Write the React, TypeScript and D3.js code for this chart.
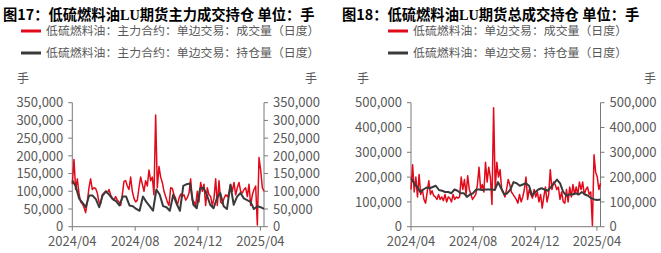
import * as d3 from "d3";
import React from "react";

const WIDTH = 661;
const HEIGHT = 253;

// shared date range of both panels
const START = new Date(2024, 3, 1);
const END = new Date(2025, 3, 8);
const xTickDates = [
    new Date(2024, 3, 1),
    new Date(2024, 7, 1),
    new Date(2024, 11, 1),
    new Date(2025, 3, 1),
];
const xTickLabels = ["2024/04", "2024/08", "2024/12", "2025/04"];

// 图17 main contract, thousands of lots
const mainVolume = [
    120, 190, 105, 135, 95, 70, 65, 55, 40, 70, 110, 135, 105, 110, 108, 95,
    70, 65, 90, 95, 100, 95, 105, 90, 80, 75, 85, 75, 70, 60, 90, 128, 130,
    115, 105, 140, 100, 80, 70, 75, 110, 140, 120, 100, 130, 115, 160, 130,
    140, 90, 315, 110, 170, 140, 125, 100, 85, 70, 60, 110, 108, 90, 80, 60,
    80, 92, 85, 90, 75, 82, 95, 135, 75, 70, 60, 100, 70, 125, 100, 120, 60,
    110, 90, 85, 60, 80, 135, 60, 130, 70, 65, 80, 90, 85, 95, 120, 100, 125,
    90, 110, 125, 100, 95, 105, 110, 85, 120, 60, 90, 105, 115, 5, 195, 160,
    110, 100,
];
const mainOpenInterest = [
    130, 115, 80, 68, 55, 88, 88, 78, 55, 88, 100, 90, 78, 72, 60, 85, 85, 60,
    58, 50, 45, 85, 70, 58, 45, 105, 90, 58, 55, 45, 90, 65, 45, 115, 120,
    122, 62, 52, 108, 110, 90, 62, 52, 80, 95, 58, 50, 118, 62, 85, 95, 80,
    75, 70, 50, 58, 55, 50,
];
const mainTicks = [0, 50000, 100000, 150000, 200000, 250000, 300000, 350000];

// 图18 all contracts, thousands of lots
const totalVolume = [
    150, 250, 140, 200, 120, 210, 130, 150, 110, 95, 140, 185, 130, 145, 125,
    120, 110, 130, 110, 120, 105, 130, 100, 120, 115, 100, 130, 110, 120, 115,
    120, 200, 150, 190, 130, 205, 150, 130, 110, 120, 130, 170, 240, 150, 170,
    140, 260, 180, 240, 200, 90, 480, 150, 260, 200, 230, 150, 140, 120, 150,
    190, 170, 140, 130, 120, 110, 95, 130, 100, 120, 150, 200, 110, 150, 130,
    115, 150, 120, 140, 100, 130, 75, 120, 160, 100, 130, 230, 150, 180, 170,
    150, 160, 110, 140, 100, 95, 150, 100, 160, 120, 170, 130, 160, 130, 180,
    150, 180, 130, 150, 160, 130, 140, 5, 290, 220, 200, 150, 175,
];
const totalOpenInterest = [
    195, 175, 160, 140, 150, 158, 155, 160, 165, 148, 145, 140, 140, 135, 150,
    145, 135, 135, 120, 130, 135, 150, 150, 148, 150, 150, 150, 148, 180, 155,
    130, 135, 150, 180, 175, 165, 170, 175, 165, 125, 140, 150, 155, 150, 145,
    160, 175, 190, 175, 140, 125, 130, 130, 135, 130, 140, 130, 125, 115, 110,
    108, 110,
];
const totalTicks = [0, 100000, 200000, 300000, 400000, 500000];

const RED = "#e00a1a";
const DARK = "#3a3a3a";
const GREY = "#595959";
const AXIS = "#7a7a7a";
const CJK = "'Noto Sans CJK SC', 'Noto Sans', sans-serif";

const TOP = 102.7;
const BOTTOM = 226.7;

type PanelProps = {
    titleHead: string;
    titleTail: string;
    titleX: number;
    legendX: number;
    volumeLabel: string;
    oiLabel: string;
    left: number;
    right: number;
    unitLeftX: number;
    unitRightX: number;
    ticks: number[];
    volume: number[];
    openInterest: number[];
};

const Panel: React.FC<PanelProps> = (p) => {
    const xScale = d3.scaleTime().domain([START, END]).range([p.left, p.right]);
    const yScale = d3
        .scaleLinear()
        .domain([0, p.ticks[p.ticks.length - 1]])
        .range([BOTTOM, TOP]);
    const fmt = d3.format(",");

    // spread each series evenly over the date range
    const dateAt = (i: number, n: number) =>
        new Date(START.getTime() + (i * (END.getTime() - START.getTime())) / (n - 1));
    const makeLine = (vals: number[]) =>
        d3
            .line<number>()
            .x((_, i) => xScale(dateAt(i, vals.length)))
            .y((d) => yScale(d * 1000))(vals) || "";

    return (
        <g>
            <text x={p.titleX} y={20} fontFamily={CJK} fontSize={14.3} fontWeight="bold" fill="#000">
                {p.titleHead}
                <tspan fontFamily="'Liberation Serif', serif">LU</tspan>
                {p.titleTail}
            </text>
            <line x1={p.legendX} x2={p.legendX + 20} y1={31} y2={31} stroke={RED} strokeWidth={3} />
            <text x={p.legendX + 25} y={35} fontFamily={CJK} fontSize={11.9} fill={GREY}>
                {p.volumeLabel}
            </text>
            <line x1={p.legendX} x2={p.legendX + 20} y1={53} y2={53} stroke={DARK} strokeWidth={3} />
            <text x={p.legendX + 25} y={57} fontFamily={CJK} fontSize={11.9} fill={GREY}>
                {p.oiLabel}
            </text>
            <text x={p.unitLeftX} y={83} textAnchor="middle" fontFamily={CJK} fontSize={12} fill={GREY}>
                手
            </text>
            <text x={p.unitRightX} y={83} textAnchor="middle" fontFamily={CJK} fontSize={12} fill={GREY}>
                手
            </text>

            {/* axes */}
            <line x1={p.left} x2={p.left} y1={TOP} y2={BOTTOM} stroke={AXIS} />
            <line x1={p.right} x2={p.right} y1={TOP} y2={BOTTOM} stroke={AXIS} />
            <line x1={p.left} x2={p.right} y1={BOTTOM} y2={BOTTOM} stroke={AXIS} />
            {p.ticks.map((t) => (
                <g key={t}>
                    <line x1={p.left - 4} x2={p.left} y1={yScale(t)} y2={yScale(t)} stroke={AXIS} />
                    <line x1={p.right} x2={p.right + 4} y1={yScale(t)} y2={yScale(t)} stroke={AXIS} />
                    <text x={p.left - 9} y={yScale(t)} dy="0.36em" textAnchor="end" fontFamily={CJK} fontSize={13} fill={GREY}>
                        {fmt(t)}
                    </text>
                    <text x={p.right + 9} y={yScale(t)} dy="0.36em" textAnchor="start" fontFamily={CJK} fontSize={13} fill={GREY}>
                        {fmt(t)}
                    </text>
                </g>
            ))}
            {xTickDates.map((d, i) => (
                <g key={xTickLabels[i]}>
                    <line x1={xScale(d)} x2={xScale(d)} y1={BOTTOM} y2={BOTTOM + 4} stroke={AXIS} />
                    <text x={xScale(d)} y={BOTTOM + 19.5} textAnchor="middle" fontFamily={CJK} fontSize={13} fill={GREY}>
                        {xTickLabels[i]}
                    </text>
                </g>
            ))}

            <path d={makeLine(p.volume)} fill="none" stroke={RED} strokeWidth={1.5} strokeLinejoin="round" />
            <path d={makeLine(p.openInterest)} fill="none" stroke={DARK} strokeWidth={2} strokeLinejoin="round" />
        </g>
    );
};

export default function App() {
    return (
        <svg width={WIDTH} height={HEIGHT} style={{ position: "absolute", left: 0, top: 0, background: "#fff" }}>
            <Panel
                titleHead="图17：低硫燃料油"
                titleTail="期货主力成交持仓 单位：手"
                titleX={3}
                legendX={21}
                volumeLabel="低硫燃料油：主力合约：单边交易：成交量（日度）"
                oiLabel="低硫燃料油：主力合约：单边交易：持仓量（日度）"
                left={72.3}
                right={264}
                unitLeftX={23}
                unitRightX={311}
                ticks={mainTicks}
                volume={mainVolume}
                openInterest={mainOpenInterest}
            />
            <Panel
                titleHead="图18：低硫燃料油"
                titleTail="期货总成交持仓 单位：手"
                titleX={342}
                legendX={388}
                volumeLabel="低硫燃料油：单边交易：成交量（日度）"
                oiLabel="低硫燃料油：单边交易：持仓量（日度）"
                left={411}
                right={600.5}
                unitLeftX={363}
                unitRightX={650}
                ticks={totalTicks}
                volume={totalVolume}
                openInterest={totalOpenInterest}
            />
        </svg>
    );
}
